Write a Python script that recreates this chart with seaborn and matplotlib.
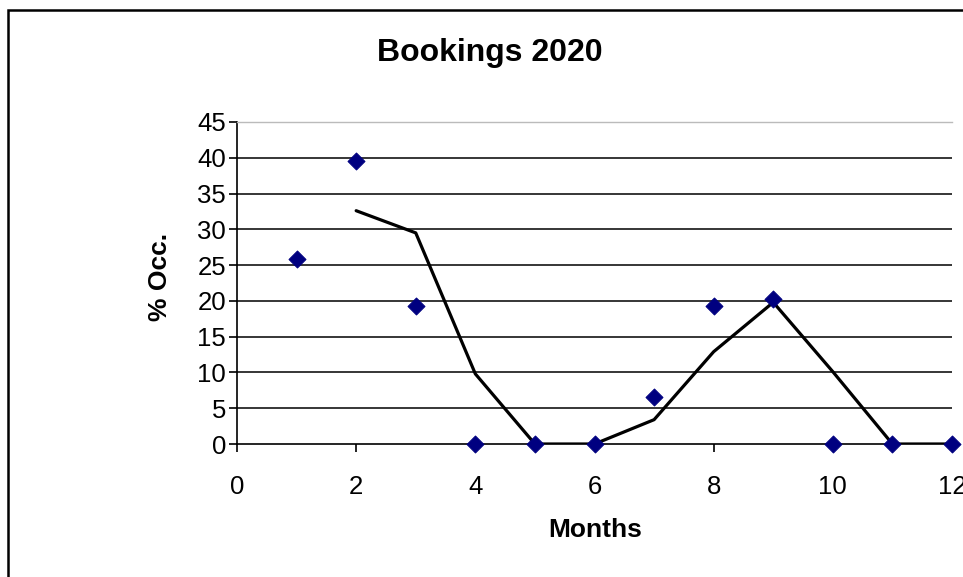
import pandas as pd
import matplotlib.pyplot as plt
import seaborn as sns
from matplotlib.patches import Rectangle

# Monthly occupancy values
months = [1, 2, 3, 4, 5, 6, 7, 8, 9, 10, 11, 12]
occupancy = [25.8, 39.5, 19.3, 0, 0, 0, 6.5, 19.3, 20.2, 0, 0, 0]

# Trend line (2-period moving average) as drawn
trend_months = [2, 3, 4, 5, 6, 7, 8, 9, 10, 11, 12]
trend_values = [32.6, 29.5, 9.8, 0, 0, 3.4, 12.9, 19.8, 10.1, 0, 0]

y_ticks = [0, 5, 10, 15, 20, 25, 30, 35, 40, 45]
x_ticks = [0, 2, 4, 6, 8, 10, 12]

df = pd.DataFrame({"Month": months, "Occ": occupancy})
trend = pd.DataFrame({"Month": trend_months, "Occ": trend_values})

sns.set_style("white")
plt.rcParams['font.family'] = ['Liberation Sans', 'DejaVu Sans']
plt.rcParams['text.color'] = 'black'
plt.rcParams['xtick.color'] = 'black'
plt.rcParams['ytick.color'] = 'black'

fig = plt.figure(figsize=(9.63, 5.77), dpi=100)
ax = fig.add_axes([0.2461, 0.2305, 0.9886 - 0.2461, 0.7886 - 0.2305])

# chart frame
fig.patches.append(Rectangle((8 / 963, -0.05), 1.2, 1 - 10 / 577 + 0.05,
                             transform=fig.transFigure, fill=False,
                             edgecolor="black", linewidth=1.8, clip_on=False))

for y in y_ticks[1:-1]:
    ax.axhline(y, color="black", linewidth=1.1, zorder=1)

sns.lineplot(data=trend, x="Month", y="Occ", ax=ax, color="black",
             linewidth=2.3, zorder=3)
sns.scatterplot(data=df, x="Month", y="Occ", ax=ax, marker="D", s=75,
                color="#000080", edgecolor="#000080", zorder=4, clip_on=False)

ax.set_xlim(0, 12)
ax.set_ylim(0, 45)
ax.set_xticks(x_ticks)
ax.set_yticks(y_ticks)
ax.tick_params(axis="both", labelsize=18.5, direction="out", length=6,
               width=1.2, colors="black", bottom=True, left=True)
ax.tick_params(axis="x", pad=16)
ax.tick_params(axis="y", pad=2)

ax.spines["right"].set_visible(False)
ax.spines["top"].set_color("#bbbbbb")
ax.spines["top"].set_linewidth(1.0)
ax.spines["left"].set_color("black")
ax.spines["left"].set_linewidth(1.2)
ax.spines["bottom"].set_color("black")
ax.spines["bottom"].set_linewidth(1.2)

ax.set_xlabel("")
ax.set_ylabel("")
fig.text(490 / 963, 1 - 53 / 577, "Bookings 2020", ha="center", va="center",
         fontsize=23, fontweight="bold")
fig.text(595 / 963, 1 - 530 / 577, "Months", ha="center", va="center",
         fontsize=19, fontweight="bold")
fig.text(160 / 963, 1 - 277 / 577, "% Occ.", ha="center", va="center",
         fontsize=19, fontweight="bold", rotation=90)

fig.savefig("out.png", dpi=100)
